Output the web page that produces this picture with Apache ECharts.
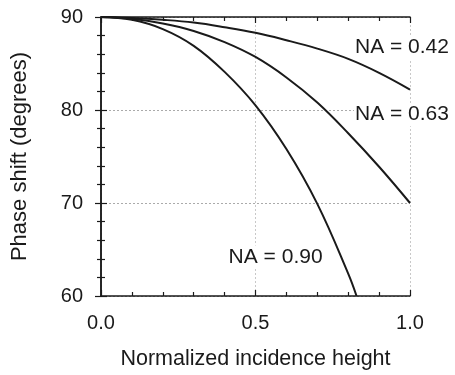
<!DOCTYPE html>
<html>
<head>
<meta charset="utf-8">
<script src="https://cdn.jsdelivr.net/npm/echarts@6/dist/echarts.min.js"></script>
<style>
  html, body { margin: 0; padding: 0; background: #fff; }
  #chart { width: 455px; height: 375px; }
</style>
</head>
<body>
<div id="chart"></div>
<script>
// normalized incidence height (x) and phase shift in degrees
var heights = [0, 0.1, 0.2, 0.3, 0.4, 0.5, 0.6, 0.7, 0.8, 0.9, 1.0];
var phaseNA042 = [90, 89.9, 89.7, 89.4, 88.9, 88.3, 87.5, 86.6, 85.5, 84.0, 82.2];
var phaseNA063 = [90, 89.8, 89.3, 88.5, 87.3, 85.7, 83.5, 80.8, 77.5, 73.9, 70.0];
var heightsNA090 = [0, 0.1, 0.2, 0.3, 0.4, 0.5, 0.6, 0.7, 0.8, 0.827];
var phaseNA090 = [90, 89.7, 88.7, 86.9, 84.1, 80.5, 75.8, 69.9, 62.4, 60.0];
var names = ['NA = 0.42', 'NA = 0.63', 'NA = 0.90'];

function pairs(xs, ys) {
    return xs.map(function (x, i) { return [x, ys[i]]; });
}

var font = 'Liberation Sans, Arial, sans-serif';
var ink = '#1a1a1a';

var myChart = echarts.init(document.getElementById('chart'));

var tickStyle = { show: true, inside: true, length: 6, lineStyle: { color: ink, width: 1.2 } };
var minorStyle = { show: true, splitNumber: 5, length: 4, lineStyle: { color: ink, width: 1.2 } };
var lineStyleAxis = { show: true, lineStyle: { color: ink, width: 1.5 } };

// text label for a curve, placed in data coordinates
function labelPoint(name, coord) {
    return {
        symbol: 'rect',
        symbolSize: 1,
        itemStyle: { color: 'rgba(0,0,0,0)' },
        label: {
            show: true,
            position: 'inside',
            formatter: name,
            color: ink,
            fontFamily: font,
            fontSize: 21,
            backgroundColor: '#fff',
            padding: [1, 1]
        },
        data: [{ coord: coord }]
    };
}

var option = {
    animation: false,
    textStyle: { fontFamily: font },
    grid: { left: 101, right: 45, top: 17, bottom: 78 },
    xAxis: [{
        type: 'value',
        min: 0, max: 1, interval: 0.5,
        name: 'Normalized incidence height',
        nameLocation: 'middle',
        nameGap: 52,
        nameTextStyle: { color: ink, fontSize: 21.5, fontFamily: font },
        axisLine: lineStyleAxis,
        axisTick: tickStyle,
        minorTick: minorStyle,
        axisLabel: {
            color: ink, fontSize: 20, fontFamily: font, margin: 17,
            formatter: function (v) { return v.toFixed(1); }
        },
        splitLine: { show: true, lineStyle: { color: '#c8c8c8', type: [2, 2], width: 1 } }
    }, {
        type: 'value',
        position: 'top',
        min: 0, max: 1, interval: 0.5,
        axisLine: lineStyleAxis,
        axisTick: tickStyle,
        minorTick: minorStyle,
        axisLabel: { show: false },
        splitLine: { show: false }
    }],
    yAxis: [{
        type: 'value',
        min: 60, max: 90, interval: 10,
        name: 'Phase shift (degrees)',
        nameLocation: 'middle',
        nameGap: 70,
        nameTextStyle: { color: ink, fontSize: 22, fontFamily: font },
        axisLine: lineStyleAxis,
        axisTick: tickStyle,
        minorTick: minorStyle,
        axisLabel: { color: ink, fontSize: 20, fontFamily: font, margin: 18 },
        splitLine: { show: true, lineStyle: { color: '#aaa', type: [2, 2], width: 1 } }
    }, {
        type: 'value',
        position: 'right',
        min: 60, max: 90, interval: 10,
        axisLine: lineStyleAxis,
        axisTick: tickStyle,
        minorTick: minorStyle,
        axisLabel: { show: false },
        splitLine: { show: false }
    }],
    series: [
        {
            name: names[0],
            type: 'line',
            smooth: 0.4,
            symbol: 'none',
            lineStyle: { color: ink, width: 2 },
            data: pairs(heights, phaseNA042),
            markPoint: labelPoint(names[0], [0.974, 86.7])
        },
        {
            name: names[1],
            type: 'line',
            smooth: 0.4,
            symbol: 'none',
            lineStyle: { color: ink, width: 2 },
            data: pairs(heights, phaseNA063),
            markPoint: labelPoint(names[1], [0.974, 79.5])
        },
        {
            name: names[2],
            type: 'line',
            smooth: 0.4,
            symbol: 'none',
            lineStyle: { color: ink, width: 2 },
            data: pairs(heightsNA090, phaseNA090),
            markPoint: labelPoint(names[2], [0.565, 64.2])
        }
    ]
};

myChart.setOption(option);
</script>
</body>
</html>
